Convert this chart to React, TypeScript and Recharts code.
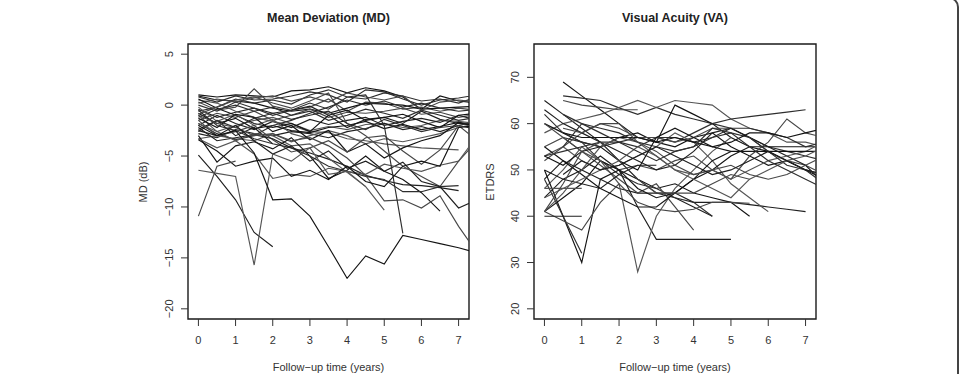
import React from "react";
import { LineChart, Line, XAxis, YAxis, ReferenceArea } from "recharts";

// ---------- data ----------
const visitTimes = [0, 0.5, 1, 1.5, 2, 2.5, 3, 3.5, 4, 4.5, 5, 5.5, 6, 6.5, 7, 7.5];
const xTicks = [0, 1, 2, 3, 4, 5, 6, 7];
const mdTicks = [-20, -15, -10, -5, 0, 5];
const vaTicks = [20, 30, 40, 50, 60, 70];
const xDomain: [number, number] = [-0.28, 7.28];
const mdDomain: [number, number] = [-21, 6];
const vaDomain: [number, number] = [17.8, 77.2];

// Mean deviation (dB) per subject at each visit (null = no visit)
const mdSubjects: (number | null)[][] = [
  [1.0, 0.8, 1.0, 0.9, 0.8, 1.4, 1.5, 1.8, 1.2, 1.7, 1.4, 0.8, -0.4, 0.9, 0.4, 0.2],
  [0.8, 0.3, 0.9, 0.5, 0.6, 0.9, 1.3, 1.0, 0.3, 1.5, 1.3, 0.6, 0.0, 0.5, 0.7, 1.0],
  [0.3, -0.5, -0.2, 1.6, -0.1, -0.5, -0.2, 0.6, -0.6, 0.3, 0.2, -0.4, -0.2, -0.6, -0.3, -0.5],
  [-0.4, -1.2, -0.7, -0.3, -0.8, -0.5, -0.1, -1.0, -2.2, -1.4, -1.2, -1.8, -0.6, -1.4, -1.8, -2.0],
  [-1.0, -2.6, -2.0, -1.5, -1.2, -1.8, -2.5, -2.1, -2.4, -1.9, -1.8, -2.2, -2.0, -1.5, -1.6, -1.8],
  [0.9, 0.5, 0.4, 0.2, -0.3, -0.6, -0.4, -0.8, -0.3, 0.2, 0.1, 0.0, -0.4, -0.3, -0.2, -0.1],
  [-0.6, -0.2, 0.6, 0.2, 0.5, 0.1, 1.0, 1.5, 0.8, 0.6, 1.2, 0.9, 0.4, 0.6, 0.2, 0.8],
  [-1.5, -0.8, -1.2, -0.6, -1.5, -1.0, -0.4, -1.2, -0.7, -0.8, -0.6, -0.3, -0.9, -0.7, -1.2, -0.9],
  [-2.0, -1.0, -1.8, -2.4, -1.6, -2.2, -1.4, -1.9, -1.5, -1.2, -2.0, -1.6, -1.3, -1.7, -1.0, -1.5],
  [0.5, 0.2, -0.6, -1.2, -1.6, -2.0, -2.6, -2.7, -3.3, -3.5, -3.8, -4.0, -4.2, -4.3, -4.4],
  [-0.8, -1.8, -1.3, -2.3, -2.0, -2.5, -2.7, -2.2, -2.0, -1.6, -2.3, -1.9, -2.4, -2.1, -1.7, -2.2],
  [-1.2, -0.4, 0.0, -0.6, -0.2, -1.0, -0.6, -1.5, -1.0, -0.4, -0.8, -1.3, -0.5, -1.0, -1.5, -1.2],
  [0.2, 0.6, 0.3, 0.7, 0.9, 0.4, 0.8, 0.3, 1.2, 0.8, 0.5, 0.9, -0.5, 0.3, 0.5, 0.3],
  [-2.8, -3.2, -2.4, -2.8, -3.0, -2.6, -2.8, -3.2, -2.6, -2.3, -1.8, -2.4, -2.1, -2.6, -2.0, -2.4],
  [-3.3, -3.0, -3.3, -3.5, -2.8, -3.6, -3.0, -2.5, -3.0, -3.8, -3.3, -3.6, -3.2, -2.8, -2.2, -1.8],
  [0.6, -0.3, -1.0, -1.8, -2.2, -1.8, -2.6, -1.0, -0.5, -1.5, -1.2, -0.9, -1.6, -2.2, -1.0, -0.8],
  [-1.8, -2.8, -3.4, -3.0, -2.0, -1.5, -0.8, -0.2, 0.5, 0.0, 0.4, -0.2, 0.2, -0.3, -0.6, -0.4],
  [-0.9, -0.2, 0.5, 0.8, 0.2, -0.3, 0.4, 1.2, -1.8, -3.0, -4.5, -6.0, -7.0, -8.0, -5.5, -3.5],
  [-2.4, -1.5, -3.0, -2.2, -3.8],
  [-0.2, -1.6, -0.9, -2.0, -1.4, -2.8, -3.3],
  [-1.3, -2.2, -0.9, -1.2, -2.6, -2.0, -3.4, -2.5, -4.6, -3.8, -5.2, -4.2, -3.5, -3.0, -1.7, -2.0],
  [-2.6, -1.5, -2.2, -1.3, -0.8, -1.4, -1.0, -0.6, -1.8, -2.4, -1.4, -2.0, -2.6, -2.2, -2.0, -1.6],
  [-1.5, -3.0, -2.6, -2.0, -3.4, -4.6, -4.2, -3.5, -4.6, -3.2, -3.0, -4.5, -5.8, -4.4, -2.0, -3.5],
  [-2.2, -3.5, -3.2, -2.9, -3.3, -4.2, -4.7, -5.3, -6.0, -6.9, -7.4, -7.8, -7.9, -8.1, -8.4],
  [-1.8, -2.6, -3.5, -2.8, -3.0, -4.0, -3.8, -5.2, -6.6, -8.0, -10.3],
  [-3.0, -5.6, -4.0, -3.6, -4.3, -3.2, -5.0, -7.2, -6.4, -5.0, -6.5, -7.3, -8.6, -10.4],
  [-0.5, -2.0, -2.5, -3.3, -3.8, -4.2, -5.0, -6.0, -6.5, -7.0, -7.3, -8.5, -8.5, -8.0, -7.9],
  [-1.0, -1.8, -2.2, -3.0, -2.8, -3.5, -3.2, -4.0, -5.2, -6.9, -9.4, -9.3, -10.1, -8.9, -11.9, -14.5],
  [-2.5, -3.0, -2.0, -3.5, -4.8, -4.0, -5.5, -4.5, -6.2, -5.5, -6.5, -5.6, -7.5, -8.0, -10.1, -9.3],
  [-3.3, -4.2, -3.5, -4.8, -7.2, -6.8, -7.0, -6.2, -6.5, -6.8, -5.8, -6.2, -6.5, -5.9, -5.5, -3.0],
  [-3.4, -4.5, -6.0, -5.5, -5.2, -7.0, -6.4, -7.3, -6.0, -7.5, -8.0, -6.0, -5.5, -6.0, -2.2, -2.0],
  [0.0, -0.6, 0.3, -0.3, -1.0, -0.5, 0.2, -0.4, 0.8, 1.0, -2.0, -12.6],
  [-10.9, -6.0, -5.5],
  [-4.9, -7.0, -9.3, -12.5, -13.9],
  [-6.4, -6.7, -7.0, -15.7, -4.8, -5.5, -4.2, -6.8, -6.5, -8.0],
  [-2.0, -3.0, -2.5, -4.7, -9.3, -9.2, -10.9, -13.9, -17.0, -14.8, -15.6, -12.8, -13.2, -13.6, -14.0, -14.5],
];

// Visual acuity (ETDRS letters) per subject at each visit (null = no visit)
const vaSubjects: (number | null)[][] = [
  [null, 69, 66, 63, 60, 57, 56, 55, 57, 58, 55, 53, 51, 52, 50, 48],
  [null, 66, 65.5, 65, 63.4, 62, 63.5, 62, 61, 60, 59, 57, 55, 54, 53, 52],
  [null, 65, 64, 63.5, 63, 63],
  [65, 62, 59, 56, 52, 48, 45, 44, 42, 40],
  [58, 60, 61, 62, 63.5, 65, 63.5, 65, 64.5, 64, 61, 59, 58, 56, 56, 55],
  [60, 58, 56, 55, 57, 58, 56, 64, 62, 60, 57, 55, 54, 52, 50, 49],
  [null, 57, 56, 55, 56, 57, 57, 56, 58, 60, 61, 61.5, 62, 62.5, 63],
  [55, 57, 54, 52, 50, 51, 50, 52, 53, 50, 48, 53, 56, 61, 58, 57],
  [48, 52, 50, 48, 46, 45, 45, 45, 43, 43, 43, 42.5, 42, 41.5, 41],
  [53, 55, 52, 50, 51, 53, 55, 58, 56, 52, 47, 44, 41],
  [41, 44, 47, 52, 50, 48, 46, 47, 45, 44, 43, 40],
  [62, 58, 56, 52, 49, 47, 46, 44, 43, 40],
  [60, 57, 54, 51, 48, 45, 47, 42, 37],
  [44, 48, 50, 53, 50, 42, 35, 35, 35, 35, 35],
  [46, 50, 55, 52, 47, 28, 40, 46, 50, 54, 57],
  [50, 40, 30, 48, 50, 46, 44, 45, 48, 52, 54],
  [48, 40, 32],
  [41, 39, 37, 43, 47, 43, 41.5, 41, 41.5, 43, 43, 42.8],
  [40, 40, 40],
  [46, 46, 46],
  [55, 52, 49, 46, 44, 42, 42, 45, 48, 50, 53, 55, 55, 55, 55, 55],
  [53, 54, 55, 56, 56, 55, 57, 57, 56, 57, 59, 59, 58, 57, 55, 56],
  [52, 55, 58, 60, 59, 57, 57, 56, 57, 59, 59, 57, 54, 52, 51, 49],
  [63, 60, 58, 56, 54, 52, 50, 51, 54, 58, 59, 57, 55, 53, 51, 47],
  [41, 45, 50, 55, 57, 56, 53, 50, 49, 50, 48, 50, 52, 53, 54, 56],
  [null, 58, 57, 57, 57, 57, 56, 57, 56, 55, 54, 54, 54, 54, 54, 54],
  [null, 55, 60, 59, 58, 56, 55, 54, 55, 59, 58, 57, 54, 51, 50, 47],
  [null, 59, 58, 60, 60, 56, 54, 51, 49, 50, 51, 49, 48, 49, 51, 53],
  [50, 48, 47, 46, 49, 51, 51],
  [44, 46, 48, 50, 52, 55, 53, 50, 48, 46, 44, 48, 50, 52, 53, 55],
  [53, 51, 54, 55, 52, 50, 57, 59, 57, 55, 56, 58, 58, 57, 58, 59],
  [null, 62, 60, 58, 56, 54, 52, 54, 55, 57, 58, 55, 52, 50, 48, 46],
  [41, 47, 54, 56, 52, 48, 45, 45, 45, 47, 49, 48],
  [null, 49, 52, 50, 51, 53, 55, 53, 51, 49, 50, 52, 54, 52, 50, 49],
];

const lineColors = ["#141414", "#2e2e2e", "#474747", "#1f1f1f", "#555555"];

// ---------- helpers ----------
const FONT = "'Liberation Sans', Arial, Helvetica, sans-serif";

function buildRows(subjects: (number | null)[][]) {
  return visitTimes.map((t, i) => {
    const row: Record<string, number | null> = { t };
    subjects.forEach((s, k) => {
      const v = s[i];
      row[`s${k}`] = v === undefined ? null : v;
    });
    return row;
  });
}

const fmt = (v: number) => (v < 0 ? `\u2212${Math.abs(v)}` : `${v}`);

const XTick = (props: any) => {
  const { x, y, payload } = props;
  return (
    <text x={x} y={y} dy={17.5} textAnchor="middle" fontSize={11} fill="#333" fontFamily={FONT}>
      {fmt(payload.value)}
    </text>
  );
};

const YTick = (props: any) => {
  const { x, y, payload } = props;
  const cx = x - 11.5;
  return (
    <text
      x={cx}
      y={y}
      transform={`rotate(-90 ${cx} ${y})`}
      textAnchor="middle"
      dominantBaseline="central"
      fontSize={11}
      fill="#333"
      fontFamily={FONT}
    >
      {fmt(payload.value)}
    </text>
  );
};

type PanelProps = {
  subjects: (number | null)[][];
  yDomain: [number, number];
  yTicks: number[];
  left: number;
  width: number;
  yAxisWidth: number;
  rightMargin: number;
};

const Panel = ({ subjects, yDomain, yTicks, left, width, yAxisWidth, rightMargin }: PanelProps) => {
  const rows = buildRows(subjects);
  return (
    <div style={{ position: "absolute", left, top: 0 }}>
      <LineChart
        width={width}
        height={374}
        data={rows}
        margin={{ top: 44, right: rightMargin, bottom: 0, left: 0 }}
      >
        <XAxis
          dataKey="t"
          type="number"
          domain={xDomain}
          ticks={xTicks}
          allowDataOverflow
          axisLine={false}
          tickLine={{ stroke: "#333", strokeWidth: 1 }}
          tickSize={7}
          tickMargin={0}
          height={55}
          tick={<XTick />}
          interval={0}
        />
        <YAxis
          type="number"
          domain={yDomain}
          ticks={yTicks}
          allowDataOverflow
          axisLine={false}
          tickLine={{ stroke: "#333", strokeWidth: 1 }}
          tickSize={7}
          tickMargin={0}
          width={yAxisWidth}
          tick={<YTick />}
          interval={0}
        />
        {subjects.map((_, k) => (
          <Line
            key={k}
            dataKey={`s${k}`}
            type="linear"
            stroke={lineColors[k % lineColors.length]}
            strokeWidth={1.15}
            dot={false}
            activeDot={false}
            isAnimationActive={false}
          />
        ))}
        <ReferenceArea
          x1={xDomain[0]}
          x2={xDomain[1]}
          y1={yDomain[0]}
          y2={yDomain[1]}
          fill="none"
          fillOpacity={0}
          stroke="#1a1a1a"
          strokeWidth={1.4}
          ifOverflow="visible"
        />
      </LineChart>
    </div>
  );
};

const textBase: React.CSSProperties = {
  position: "absolute",
  fontFamily: FONT,
  color: "#222",
  whiteSpace: "nowrap",
  lineHeight: "14px",
};

export default function App() {
  return (
    <div
      style={{
        position: "absolute",
        left: 0,
        top: 0,
        width: 961,
        height: 374,
        background: "#fff",
        overflow: "hidden",
      }}
    >
      {/* page frame */}
      <div
        style={{
          position: "absolute",
          left: -20,
          top: -3,
          width: 979,
          height: 400,
          boxSizing: "border-box",
          border: "2px solid #444",
          borderRadius: 10,
        }}
      />
      <Panel
        subjects={mdSubjects}
        yDomain={mdDomain}
        yTicks={mdTicks}
        left={0}
        width={480}
        yAxisWidth={188}
        rightMargin={11}
      />
      <Panel
        subjects={vaSubjects}
        yDomain={vaDomain}
        yTicks={vaTicks}
        left={480}
        width={400}
        yAxisWidth={54}
        rightMargin={64}
      />
      {/* titles */}
      <div style={{ ...textBase, left: 188, width: 281, top: 11, textAlign: "center", fontWeight: "bold", fontSize: 12.5 }}>
        Mean Deviation (MD)
      </div>
      <div style={{ ...textBase, left: 534, width: 282, top: 11, textAlign: "center", fontWeight: "bold", fontSize: 12.5 }}>
        Visual Acuity (VA)
      </div>
      {/* x axis titles */}
      <div style={{ ...textBase, left: 188, width: 281, top: 360, textAlign: "center", fontSize: 11, color: "#333" }}>
        Follow−up time (years)
      </div>
      <div style={{ ...textBase, left: 534, width: 282, top: 360, textAlign: "center", fontSize: 11, color: "#333" }}>
        Follow−up time (years)
      </div>
      {/* y axis titles */}
      <div
        style={{
          ...textBase,
          left: 143,
          top: 182,
          fontSize: 11,
          color: "#333",
          transform: "translate(-50%, -50%) rotate(-90deg)",
        }}
      >
        MD (dB)
      </div>
      <div
        style={{
          ...textBase,
          left: 489.5,
          top: 182,
          fontSize: 11,
          color: "#333",
          transform: "translate(-50%, -50%) rotate(-90deg)",
        }}
      >
        ETDRS
      </div>
    </div>
  );
}
